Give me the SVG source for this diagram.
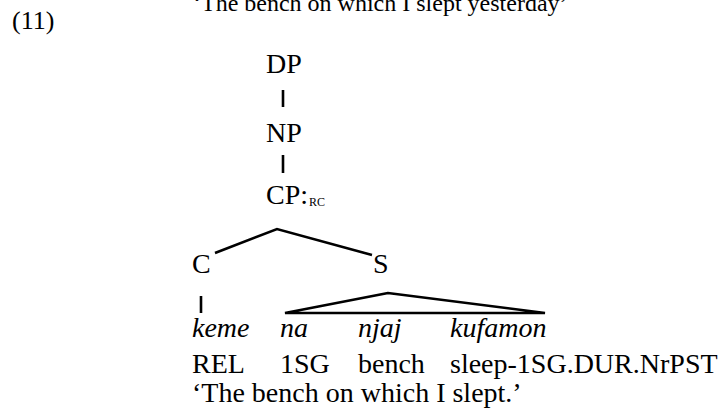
<svg xmlns="http://www.w3.org/2000/svg" width="723" height="412" viewBox="0 0 723 412">
<style>
text{font-family:"Liberation Serif","Times New Roman",serif;fill:#000;font-size:28px}
.it{font-style:italic}
.sub{font-size:12px}
line,polyline,polygon{stroke:#000;stroke-width:2.6;fill:none}
</style>
<rect width="723" height="412" fill="#fff"/>
<text x="12" y="29" style="font-size:26px">(11)</text>
<text x="193" y="11" style="font-size:24px">‘The bench on which I slept yesterday’</text>
<g id="DP"><text x="266" y="73">DP</text></g>
<g id="NP"><text x="266" y="142">NP</text></g>
<g id="CP"><text x="266" y="204">CP:</text><text class="sub" x="309" y="206">RC</text></g>
<g id="C"><text x="192" y="273">C</text></g>
<g id="S"><text x="373" y="273">S</text></g>
<g id="keme"><text class="it" x="192" y="337">keme</text></g>
<g id="na"><text class="it" x="280" y="337">na</text></g>
<g id="njaj"><text class="it" x="358" y="337">njaj</text></g>
<g id="kufamon"><text class="it" x="450" y="337">kufamon</text></g>
<g id="gloss">
<text x="192" y="373">REL</text>
<text x="280" y="373">1SG</text>
<text x="358" y="373">bench</text>
<text x="450" y="373">sleep-1SG.DUR.NrPST</text>
<text x="192" y="402">‘The bench on which I slept.’</text>
</g>
<g id="connectors">
<line x1="283" y1="90" x2="283" y2="107"/>
<line x1="283" y1="155" x2="283" y2="173"/>
<polyline points="215,253 277,229 372,255"/>
<line x1="201" y1="296" x2="201" y2="313"/>
<polygon points="388,293 285,313 545,313"/>
</g>
</svg>
